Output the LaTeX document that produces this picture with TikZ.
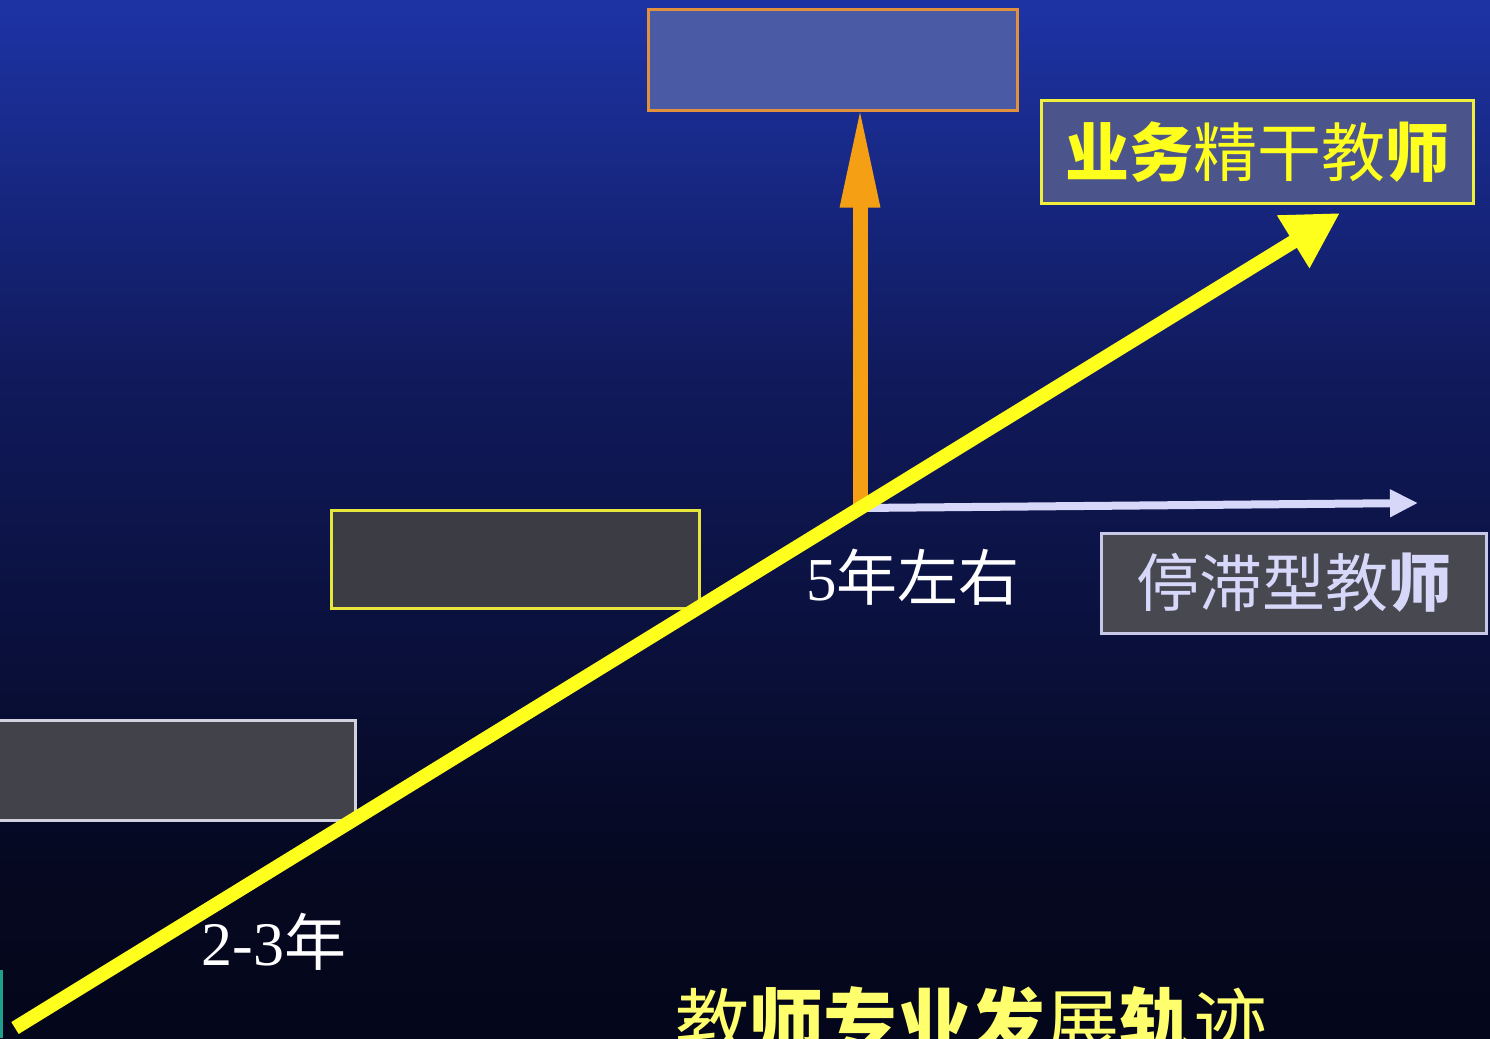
\documentclass[tikz,border=0pt]{standalone}
\usepackage{fontspec}
\setmainfont{Liberation Serif}
\newfontfamily\cjk{Noto Sans CJK SC}
\usetikzlibrary{arrows.meta}
\definecolor{bgA}{RGB}{2,3,12}
\definecolor{bgB}{RGB}{5,8,32}
\definecolor{bgC}{RGB}{16,26,92}
\definecolor{bgD}{RGB}{34,60,190}
\definecolor{bgE}{RGB}{32,52,165}
\definecolor{yel}{RGB}{255,255,30}
\definecolor{org}{RGB}{245,160,20}
\definecolor{lav}{RGB}{215,215,250}
\definecolor{topfill}{RGB}{75,90,165}
\definecolor{topbd}{RGB}{225,145,60}
\definecolor{lblfill}{RGB}{75,85,140}
\definecolor{lblbd}{RGB}{240,240,60}
\definecolor{midfill}{RGB}{60,60,68}
\definecolor{midbd}{RGB}{230,230,60}
\definecolor{lowfill}{RGB}{66,66,74}
\definecolor{lowbd}{RGB}{210,210,222}
\definecolor{stgfill}{RGB}{72,72,80}
\definecolor{stgbd}{RGB}{200,200,232}
\definecolor{ttl}{RGB}{255,255,110}
\definecolor{tealbar}{RGB}{30,160,140}
\pgfdeclareverticalshading{bgsh}{100bp}{color(0bp)=(bgA); color(33bp)=(bgB); color(57bp)=(bgC); color(81bp)=(bgD); color(100bp)=(bgE)}
\tikzset{
  panel/.style={rectangle, line width=3pt, inner sep=0pt},
  yarrow/.style={draw=yel, line width=14pt, -{Triangle[length=55pt,width=58pt]}},
  oarrow/.style={draw=org, line width=15pt, -{Triangle[length=103pt,width=36pt]}},
  warrow/.style={draw=lav, line width=8pt, -{Triangle[length=28pt,width=26pt]}},
  lbl/.style={inner sep=0pt}
}
\begin{document}
\begin{tikzpicture}[x=1pt,y=-1pt]
\useasboundingbox (0,0) rectangle (1490,1038);
\begin{scope}
\clip (0,0) rectangle (1490,1038);
\shade[shading=bgsh] (0,0) rectangle (1490,1038);
\fill[tealbar] (0,970) rectangle (3,1038);

% boxes
\node[panel, draw=topbd, fill=topfill, minimum width=369pt, minimum height=101pt] (topbox) at (832.5,60.5) {};
\node[panel, draw=lblbd, fill=lblfill, minimum width=432pt, minimum height=102pt, text=yel] (elite) at (1257,152)
  {\fontsize{64}{64}\selectfont\cjk\bfseries 业务\mdseries 精干教\bfseries 师};
\node[panel, draw=midbd, fill=midfill, minimum width=368pt, minimum height=98pt] (midbox) at (515,559) {};
\node[panel, draw=lowbd, fill=lowfill, minimum width=365pt, minimum height=100pt] (lowbox) at (172.5,770) {};
\node[panel, draw=stgbd, fill=stgfill, minimum width=385pt, minimum height=100pt, text=lav] (stag) at (1293.5,583)
  {\fontsize{63}{63}\selectfont\cjk 停滞型教\bfseries 师};

% coordinates
\coordinate (start) at (15,1028);
\coordinate (tip) at (1340,213);
\coordinate (turn) at (860,508);
\coordinate (wtip) at (1418,503);

% arrows
\draw[oarrow, shorten >=-8pt] (turn) -- (topbox.south -| turn);
\draw[warrow] (turn) -- (wtip);
\draw[yarrow] (start) -- (tip);

% labels
\node[lbl, text=white] (five) at (913,577) {\fontsize{61}{61}\selectfont 5\cjk 年左右};
\node[lbl, text=white] (twothree) at (274,942) {\fontsize{62}{62}\selectfont 2-3\cjk 年};
\node[lbl, anchor=base, text=ttl] (title) at (971,1050)
  {\fontsize{74}{74}\selectfont\cjk 教\bfseries 师专业发\mdseries 展\bfseries 轨\mdseries 迹};
\end{scope}
\end{tikzpicture}
\end{document}
